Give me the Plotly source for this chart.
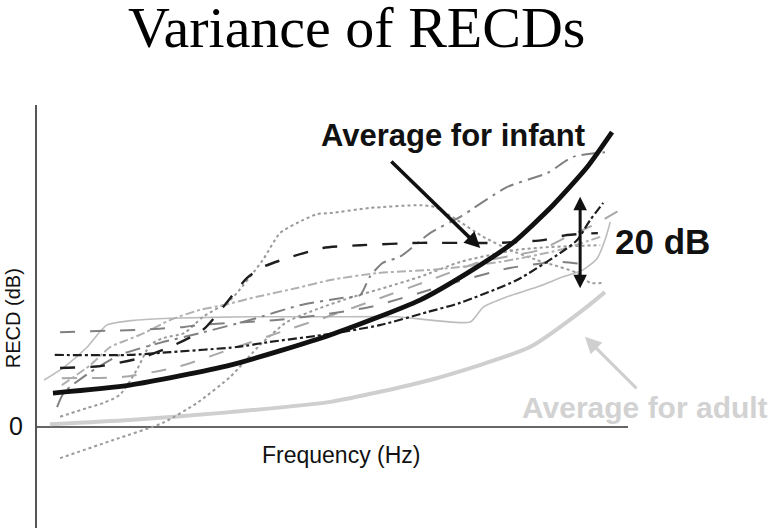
import plotly.graph_objects as go

# ---- data (frequency in % of axis span, RECD in dB) ----
infant_x = [2.7, 15.7, 32.7, 49.6, 64.8, 72.8, 80.5, 87.3, 93.1, 97.3]
infant_y = [7.3, 9.0, 13.3, 19.8, 27.3, 33.1, 39.6, 47.7, 55.9, 63.4]

adult_x = [2.2, 15.7, 32.7, 49.6, 66.5, 83.4, 92.4, 96.1]
adult_y = [0.6, 1.5, 3.2, 5.4, 10.1, 17.2, 25.2, 29.0]

dot_plateau_x = [3.9, 8.5, 11.3, 14.0, 16.9, 19.1, 21.3, 24.9, 28.1, 32.7, 38.2, 41.1, 45.0, 47.4, 49.6,
                 56.3, 64.8, 67.3, 71.1, 75.5, 80.0, 84.6, 88.5, 91.4, 93.6, 95.8]
dot_plateau_y = [2.2, 4.1, 5.2, 6.9, 12.3, 17.6, 19.1, 20.2, 23.7, 27.3, 35.9, 41.7, 44.5, 45.8, 46.0,
                 47.1, 47.7, 47.3, 44.5, 40.9, 38.1, 35.9, 34.4, 33.1, 31.0, 31.0]

dot_low_x = [3.9, 12.9, 21.3, 27.1, 32.7, 37.7, 42.3, 47.9, 53.5, 59.2, 64.8, 71.6, 81.2, 86.8, 95.3]
dot_low_y = [-6.7, -2.8, 0.9, 5.2, 10.8, 17.6, 22.6, 25.6, 28.0, 30.1, 32.3, 35.5, 38.1, 38.7, 39.1]

black_longdash_x = [3.9, 10.7, 17.4, 22.5, 28.1, 31.5, 35.5, 38.2, 42.3, 48.4, 54.7, 64.8, 78.3, 85.6, 89.7, 94.9]
black_longdash_y = [12.7, 13.1, 14.8, 17.2, 20.9, 25.8, 32.0, 34.4, 36.3, 38.5, 39.1, 39.6, 39.6, 40.2, 41.3, 41.7]

black_dashdot_x = [3.0, 15.7, 22.5, 33.8, 39.4, 48.4, 58.0, 66.0, 71.6, 81.2, 88.5, 91.4, 93.6, 95.8]
black_dashdot_y = [15.5, 15.5, 16.1, 17.2, 18.3, 19.8, 21.9, 24.7, 26.7, 31.6, 37.4, 40.2, 44.5, 48.2]

gray_longdash_x = [3.9, 16.9, 24.9, 27.1, 40.6, 47.9, 56.3, 66.5, 70.4, 80.0, 88.5, 93.6]
gray_longdash_y = [20.4, 20.9, 21.5, 21.9, 23.0, 24.1, 25.8, 29.5, 31.0, 34.2, 35.5, 34.8]

light_longdash_x = [4.2, 14.7, 23.7, 33.8, 42.3, 49.1, 58.0, 66.5, 75.0, 85.1, 89.7, 94.1, 100.0]
light_longdash_y = [10.5, 10.8, 12.9, 17.2, 20.9, 23.7, 27.7, 31.6, 35.5, 38.1, 40.9, 43.4, 47.7]

gray_dashdot_x = [3.4, 4.6, 9.0, 14.0, 20.8, 27.6, 36.0, 44.5, 51.3, 54.7, 56.3, 58.5, 61.4, 66.5,
                  71.6, 79.5, 86.3, 90.7, 96.1]
gray_dashdot_y = [4.3, 7.5, 11.8, 15.5, 18.1, 20.2, 23.0, 26.2, 27.7, 28.4, 32.3, 35.3, 36.6, 41.7,
                  45.2, 51.6, 54.6, 58.1, 59.1]

light_dashdot_x = [4.2, 9.0, 12.4, 15.2, 18.1, 22.5, 27.6, 31.5, 37.2, 44.0, 49.6, 57.5, 67.7, 78.3, 88.5, 95.3]
light_dashdot_y = [9.0, 13.3, 17.2, 18.7, 20.2, 23.0, 25.2, 26.2, 28.0, 29.9, 31.6, 33.1, 33.9, 35.5, 38.1, 40.9]

light_solid_x = [1.2, 4.6, 8.5, 11.8, 16.9, 22.5, 36.0, 49.6, 60.9, 73.3, 75.5, 79.5, 84.6, 89.0,
                 92.4, 94.8, 96.1, 97.0]
light_solid_y = [10.1, 12.9, 17.2, 21.9, 23.0, 23.4, 23.7, 23.7, 23.7, 22.6, 25.8, 28.0, 30.1, 32.3,
                 33.8, 36.3, 40.2, 44.1]

# arrow data
infant_arrow = dict(head=(75.0, 38.5), tail=(59.7, 57.4))
span_arrow = dict(x=91.9, top=49.5, bottom=29.5)
adult_arrow = dict(head=(92.7, 19.4), tail=(101.7, 8.0))

fig = go.Figure()

def add_line(x, y, color, width, dash, shape="spline"):
    fig.add_trace(go.Scatter(x=x, y=y, mode="lines", hoverinfo="skip", showlegend=False,
                             line=dict(color=color, width=width, dash=dash, shape=shape, smoothing=0.6)))

add_line(adult_x, adult_y, "#cfcfcf", 4, "solid")
add_line(light_solid_x, light_solid_y, "#bdbdbd", 1.6, "solid")
add_line(dot_low_x, dot_low_y, "#9a9a9a", 2, "dot")
add_line(dot_plateau_x, dot_plateau_y, "#9a9a9a", 2, "dot")
add_line(light_longdash_x, light_longdash_y, "#a8a8a8", 2, "longdash")
add_line(light_dashdot_x, light_dashdot_y, "#b0b0b0", 2, "dashdot")
add_line(gray_longdash_x, gray_longdash_y, "#808080", 2, "longdash")
add_line(gray_dashdot_x, gray_dashdot_y, "#808080", 2, "longdashdot")
add_line(black_dashdot_x, black_dashdot_y, "#1e1e1e", 2.2, "dashdot")
add_line(black_longdash_x, black_longdash_y, "#1e1e1e", 2.4, "longdash")
add_line(infant_x, infant_y, "#111111", 4.8, "solid")

annotations = [
    dict(text="Variance of RECDs", xref="paper", yref="paper", x=0.4336, y=1.184,
         xanchor="center", yanchor="middle", showarrow=False,
         font=dict(family="Liberation Serif", size=58, color="#000")),
    dict(text="<b>Average for infant</b>", xref="x", yref="y", x=70.4, y=62.6,
         xanchor="center", yanchor="middle", showarrow=False,
         font=dict(family="Liberation Sans", size=31, color="#111")),
    dict(text="", xref="x", yref="y", axref="x", ayref="y",
         x=infant_arrow["head"][0], y=infant_arrow["head"][1],
         ax=infant_arrow["tail"][0], ay=infant_arrow["tail"][1],
         showarrow=True, arrowhead=2, arrowsize=0.9, arrowwidth=3.5, arrowcolor="#111"),
    dict(text="", xref="x", yref="y", axref="x", ayref="y",
         x=span_arrow["x"], y=span_arrow["top"], ax=span_arrow["x"], ay=span_arrow["bottom"],
         showarrow=True, arrowhead=2, startarrowhead=2, arrowside="end+start",
         arrowsize=0.9, startarrowsize=0.9, arrowwidth=3, arrowcolor="#111"),
    dict(text="<b>20 dB</b>", xref="x", yref="y", x=105.8, y=39.8,
         xanchor="center", yanchor="middle", showarrow=False,
         font=dict(family="Liberation Sans", size=35, color="#111")),
    dict(text="", xref="x", yref="y", axref="x", ayref="y",
         x=adult_arrow["head"][0], y=adult_arrow["head"][1],
         ax=adult_arrow["tail"][0], ay=adult_arrow["tail"][1],
         showarrow=True, arrowhead=2, arrowsize=1.1, arrowwidth=3, arrowcolor="#cfcfcf"),
    dict(text="<b>Average for adult</b>", xref="x", yref="y", x=102.9, y=4.1,
         xanchor="center", yanchor="middle", showarrow=False,
         font=dict(family="Liberation Sans", size=30, color="#d2d2d2")),
    dict(text="0", xref="paper", yref="y", x=-0.029, y=0.2,
         xanchor="center", yanchor="middle", showarrow=False,
         font=dict(family="Liberation Sans", size=25, color="#111")),
    dict(text="RECD (dB)", xref="paper", yref="paper", x=-0.0325, y=0.496,
         xanchor="center", yanchor="middle", showarrow=False, textangle=-90,
         font=dict(family="Liberation Sans", size=20, color="#111")),
    dict(text="Frequency (Hz)", xref="x", yref="y", x=51.4, y=-6.0,
         xanchor="center", yanchor="middle", showarrow=False,
         font=dict(family="Liberation Sans", size=23, color="#111")),
]

fig.update_layout(
    width=775, height=531,
    margin=dict(l=37, r=0, t=105, b=3),
    paper_bgcolor="white", plot_bgcolor="white",
    annotations=annotations,
    shapes=[dict(type="line", xref="x", yref="y", x0=0, x1=100, y0=0, y1=0,
                 line=dict(color="#333", width=1.6), layer="below")],
    xaxis=dict(range=[0, 124.87], visible=False, fixedrange=True),
    yaxis=dict(range=[-21.72, 69.25], showgrid=False, zeroline=False, showticklabels=False,
               ticks="", showline=True, linecolor="#555", linewidth=2, fixedrange=True),
)

fig.write_html("out.html", config={"displayModeBar": False},
               post_script="document.body.style.margin='0';document.body.style.overflow='hidden';")
